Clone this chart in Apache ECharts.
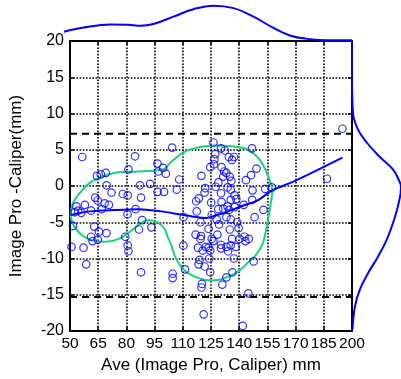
<!DOCTYPE html>
<html>
<head>
<meta charset="utf-8">
<script src="https://cdn.jsdelivr.net/npm/echarts@6/dist/echarts.min.js"></script>
<style>
html, body { margin: 0; padding: 0; background: #fff; }
#chart { width: 401px; height: 379px; }
</style>
</head>
<body>
<div id="chart"></div>
<script>
// Axis ticks
const xTicks = [50, 65, 80, 95, 110, 125, 140, 155, 170, 185, 200];
const yTicks = [-20, -15, -10, -5, 0, 5, 10, 15, 20];

// Limits of agreement
const upperLimit = 7.2;
const lowerLimit = -15.3;

// Paired measurements: mean of both methods (mm) and their difference (mm)
const aveValues = [
  56.5, 84.6, 66.4, 69.0, 64.3, 81.1, 69.5, 72.1, 78.1, 80.7, 87.2, 92.6, 96.6, 87.8, 63.4, 64.7,
  68.4, 70.7, 57.9, 53.4, 54.3, 56.0, 52.5, 61.2, 66.9, 84.9, 80.6, 88.4, 96.5, 99.5, 101.0, 96.9,
  51.6, 62.9, 65.4, 69.4, 61.2, 62.0, 64.8, 50.8, 57.2, 79.4, 80.7, 81.1, 86.7, 93.3, 58.6, 87.8,
  104.3, 126.3, 130.3, 132.4, 134.5, 136.2, 137.2, 146.8, 127.3, 126.8, 126.6, 124.6, 130.6, 132.0,
  133.2, 131.5, 135.0, 135.8, 143.6, 146.3, 149.2, 119.9, 108.1, 100.0, 106.8, 121.9, 127.5, 128.9,
  133.8, 135.5, 121.6, 130.3, 137.5, 138.5, 135.5, 118.5, 117.1, 130.6, 125.1, 146.9, 117.4, 128.9,
  131.5, 133.8, 134.6, 137.6, 142.4, 148.2, 110.4, 125.4, 133.2, 119.4, 128.0, 135.5, 139.0, 147.1,
  153.8, 157.3, 152.9, 186.7, 194.9,
  123.7, 129.3, 135.0, 139.7, 116.8, 119.7, 125.4, 128.4, 136.2, 140.2, 142.8, 145.1, 143.3, 119.4,
  130.3, 135.5, 138.1, 122.3, 123.7, 124.6, 110.3, 118.1, 130.3, 133.2, 134.1, 120.6, 126.3, 124.1,
  118.9, 118.4, 121.6, 137.2, 147.7, 111.2, 124.6, 104.6, 104.6, 136.4, 133.2, 120.2, 131.0, 119.9,
  144.9, 121.1, 141.9
];
const diffValues = [
  4.0, 4.1, 1.6, 1.8, 1.4, 2.3, 0.1, -0.9, -1.1, -1.3, 0.1, 0.3, -0.8, -1.6, -1.6, -2.0,
  -2.4, -2.6, -2.6, -2.8, -3.4, -3.7, -3.6, -3.4, -3.2, -3.2, -3.9, -4.7, 3.1, 2.5, 1.7, 2.0,
  -5.5, -5.6, -6.3, -6.5, -7.0, -7.6, -7.4, -8.4, -8.5, -7.0, -8.2, -9.0, -6.0, -5.7, -10.8, -11.9,
  5.3, 6.0, 5.2, 4.9, 4.0, 3.6, 4.0, 5.2, 4.4, 3.7, 3.0, 2.6, 2.6, 2.0,
  1.8, 1.3, 1.3, 0.7, 0.8, 1.5, 2.4, 1.4, 0.9, -0.8, -0.5, -0.3, -0.1, 0.5,
  -0.2, -0.5, -0.9, -1.0, -1.3, -1.8, -1.9, -1.7, -2.1, -2.2, -2.3, -1.9, -3.5, -3.2,
  -3.1, -2.8, -3.3, -2.9, -2.6, -4.3, -4.3, -4.0, -4.3, -5.0, -4.6, -4.6, -5.0, -0.6,
  -0.4, -0.2, -3.3, 1.0, 7.9,
  -5.9, -5.3, -6.0, -5.8, -6.7, -6.9, -7.3, -6.7, -7.3, -7.3, -7.0, -7.3, -7.6, -7.3,
  -8.1, -8.2, -8.4, -8.4, -8.5, -8.9, -8.2, -8.5, -8.6, -8.4, -9.0, -8.9, -7.6, -10.0,
  -10.2, -10.8, -11.1, -10.0, -10.4, -11.5, -11.9, -12.1, -12.7, -11.9, -12.6, -13.5, -13.6, -14.0,
  -14.8, -17.7, -19.3
];

// Smoothed trend of the difference against the mean
const trendAve  = [50.3, 60.3, 74.2, 86.4, 98.5, 108.1, 115.0, 122.7, 128.0, 132.4, 141.0, 149.7, 157.6, 169.7, 194.9];
const trendDiff = [-4.0, -3.5, -3.3, -3.2, -3.5, -3.9, -4.2, -4.4, -4.0, -3.7, -2.8, -2.0, -0.6, 0.7, 3.9];

// Density contour enclosing the bulk of the points
const contourAve = [
  50.3, 51.7, 55.1, 60.3, 67.3, 75.9, 86.4, 95.1, 100.3, 103.9, 111.6, 120.2, 127.2, 135.8, 142.8,
  148.0, 152.3, 155.8, 157.6, 156.7, 155.5, 154.1, 152.3, 148.9, 144.5, 139.3, 132.4, 125.4, 118.5,
  111.6, 106.4, 103.8, 101.8, 100.3, 96.8, 91.6, 87.2, 82.0, 75.9, 69.0, 62.1, 56.9, 52.3, 50.3
];
const contourDiff = [
  -4.2, -2.3, -1.0, 0.4, 1.3, 1.9, 2.0, 2.15, 2.4, 3.35, 4.8, 5.4, 5.6, 5.5, 5.2,
  4.4, 3.1, 1.1, -0.7, -2.5, -4.4, -6.3, -8.1, -9.5, -10.6, -11.8, -12.7, -13.05, -12.7,
  -11.8, -10.0, -8.1, -6.9, -5.9, -5.05, -4.7, -5.2, -6.3, -7.3, -7.7, -7.5, -6.9, -5.6, -4.2
];

// Marginal density of the mean (relative height)
const aveDensityX = [50, 60.2, 74.2, 83.1, 89.8, 96.6, 107, 117.4, 127.8, 138.3, 148.7, 159.1, 168, 176.8, 187.2, 200];
const aveDensityY = [0.26, 0.38, 0.47, 0.46, 0.43, 0.48, 0.69, 0.90, 1.00, 0.93, 0.69, 0.37, 0.15, 0.06, 0.02, 0.02];

// Marginal density of the difference (relative height)
const diffDensityY = [20, 15, 10.1, 7.8, 6.0, 4.0, 2.25, 0.46, -0.1, -1.5, -4.2, -7.4, -9.75, -12.0, -14.3, -16.6, -19.8];
const diffDensityX = [0, 0, 0.02, 0.12, 0.30, 0.57, 0.84, 0.98, 1.00, 0.98, 0.88, 0.71, 0.53, 0.33, 0.16, 0.06, 0.01];

const zip = (a, b) => a.map((v, i) => [v, b[i]]);

const FONT = '"Liberation Sans", Arial, sans-serif';
const BLUE = '#0000ff';
const GREEN = '#19d27a';
const gridDots = { color: '#000', width: 1.6, type: [1.6, 1.6] };

const chart = echarts.init(document.getElementById('chart'), null, { renderer: 'canvas' });

chart.setOption({
  animation: false,
  backgroundColor: '#fff',
  grid: [
    { left: 64, top: 41, width: 288, height: 290 },
    { left: 64, top: 0, width: 288, height: 41 },
    { left: 352, top: 41, width: 49, height: 290 }
  ],
  xAxis: [
    {
      gridIndex: 0, type: 'value', min: 50, max: 200, interval: 15, position: 'bottom',
      name: 'Ave (Image Pro, Caliper) mm', nameLocation: 'middle', nameGap: 25,
      nameTextStyle: { fontFamily: FONT, fontSize: 17, color: '#000' },
      axisLine: { onZero: false, lineStyle: { color: '#000', width: 2 } },
      axisTick: { inside: true, length: 4, customValues: xTicks, lineStyle: { color: '#000', width: 1.5 } },
      axisLabel: { customValues: xTicks, margin: 5, fontFamily: FONT, fontSize: 15.5, color: '#000' },
      splitLine: { show: true, lineStyle: gridDots }
    },
    {
      gridIndex: 0, type: 'value', min: 50, max: 200, interval: 15, position: 'top',
      axisLine: { onZero: false, lineStyle: { color: '#000', width: 2 } },
      axisTick: { inside: true, length: 4, customValues: xTicks, lineStyle: { color: '#000', width: 1.5 } },
      axisLabel: { show: false },
      splitLine: { show: false }
    },
    { gridIndex: 1, type: 'value', min: 50, max: 200, show: false },
    { gridIndex: 2, type: 'value', min: 0, max: 1.0, show: false }
  ],
  yAxis: [
    {
      gridIndex: 0, type: 'value', min: -20, max: 20, interval: 5, position: 'left',
      name: 'Image Pro -Caliper(mm)', nameLocation: 'middle', nameGap: 45,
      nameTextStyle: { fontFamily: FONT, fontSize: 17, color: '#000' },
      axisLine: { onZero: false, lineStyle: { color: '#000', width: 2 } },
      axisTick: { inside: true, length: 4, lineStyle: { color: '#000', width: 1.5 } },
      axisLabel: { margin: 6, fontFamily: FONT, fontSize: 16, color: '#000' },
      splitLine: { show: true, lineStyle: gridDots }
    },
    {
      gridIndex: 0, type: 'value', min: -20, max: 20, interval: 5, position: 'right',
      axisLine: { onZero: false, lineStyle: { color: '#000', width: 2 } },
      axisTick: { inside: true, length: 4, lineStyle: { color: '#000', width: 1.5 } },
      axisLabel: { show: false },
      splitLine: { show: false }
    },
    { gridIndex: 1, type: 'value', min: 0, max: 1.16, show: false },
    { gridIndex: 2, type: 'value', min: -20, max: 20, show: false }
  ],
  series: [
    {
      name: 'Upper limit', type: 'line', xAxisIndex: 0, yAxisIndex: 0, symbol: 'none',
      data: [[xTicks[0], upperLimit], [xTicks[xTicks.length - 1], upperLimit]],
      lineStyle: { color: '#000', width: 2, type: [7, 5] }, z: 3
    },
    {
      name: 'Lower limit', type: 'line', xAxisIndex: 0, yAxisIndex: 0, symbol: 'none',
      data: [[xTicks[0], lowerLimit], [xTicks[xTicks.length - 1], lowerLimit]],
      lineStyle: { color: '#000', width: 2, type: [7, 5] }, z: 3
    },
    {
      name: 'Contour', type: 'line', xAxisIndex: 0, yAxisIndex: 0, symbol: 'none', smooth: 0.4,
      data: zip(contourAve, contourDiff),
      lineStyle: { color: GREEN, width: 2 }, z: 4
    },
    {
      name: 'Points', type: 'scatter', xAxisIndex: 0, yAxisIndex: 0,
      data: zip(aveValues, diffValues), symbol: 'circle', symbolSize: 7.5,
      itemStyle: { color: 'rgba(0,0,0,0)', borderColor: BLUE, borderWidth: 1.2 }, z: 5
    },
    {
      name: 'Trend', type: 'line', xAxisIndex: 0, yAxisIndex: 0, symbol: 'none', smooth: 0.3,
      data: zip(trendAve, trendDiff),
      lineStyle: { color: BLUE, width: 2 }, z: 6
    },
    {
      name: 'Ave density', type: 'line', xAxisIndex: 2, yAxisIndex: 2, symbol: 'none', smooth: 0.4,
      data: zip(aveDensityX, aveDensityY),
      lineStyle: { color: BLUE, width: 2 }, z: 6
    },
    {
      name: 'Diff density', type: 'line', xAxisIndex: 3, yAxisIndex: 3, symbol: 'none', smooth: 0.4,
      data: zip(diffDensityX, diffDensityY),
      lineStyle: { color: BLUE, width: 2 }, z: 6
    }
  ]
});
</script>
</body>
</html>
